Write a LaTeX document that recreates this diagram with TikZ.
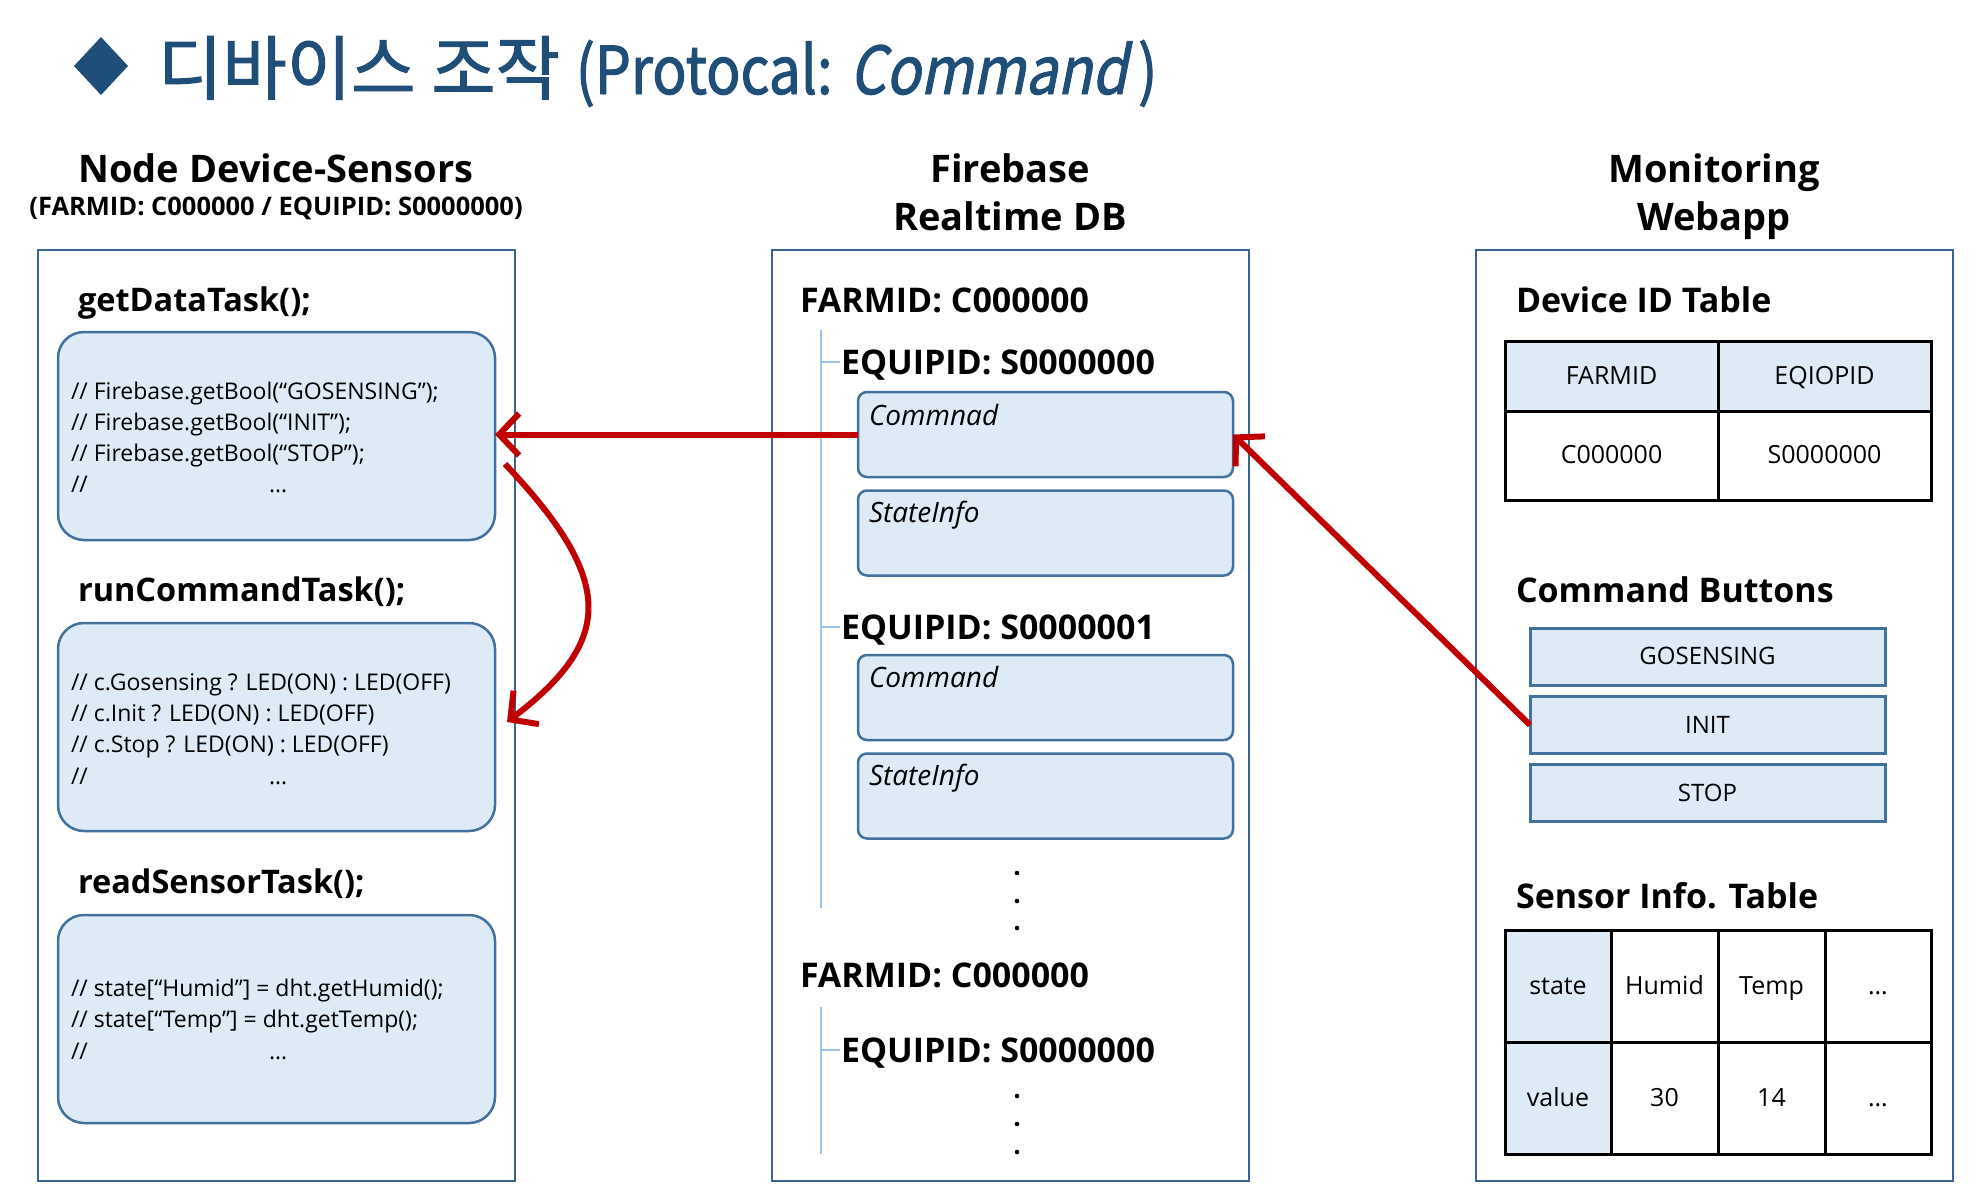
\documentclass[tikz,border=0pt]{standalone}
\usepackage{fontspec}
\setmainfont{Open Sans}
\newfontfamily\krfont[FakeBold=1.5]{Noto Sans CJK KR}
\newfontfamily\krlatin[FakeStretch=0.86, FakeBold=1.5, AutoFakeSlant=0.2]{Noto Sans CJK KR}
\usetikzlibrary{arrows.meta,calc}
\definecolor{titleblue}{HTML}{1F4E79}
\definecolor{outerblue}{HTML}{3A6592}
\definecolor{innerblue}{HTML}{41719C}
\definecolor{lightfill}{HTML}{DEEBF7}
\definecolor{treeblue}{HTML}{9DC3E6}
\definecolor{arrowred}{HTML}{C00000}
\begin{document}
\begin{tikzpicture}[x=1pt,y=-1pt,
  every node/.style={inner sep=0pt, outer sep=0pt},
  outerbox/.style={draw=outerblue, line width=2.5pt, minimum width=477pt, minimum height=931pt},
  codebox/.style={draw=innerblue, fill=lightfill, rounded corners=26pt, line width=2.5pt, minimum width=437pt, minimum height=208pt},
  fbbox/.style={draw=innerblue, fill=lightfill, rounded corners=9pt, line width=2.5pt, minimum width=375pt, minimum height=85pt},
  btnbox/.style={draw=innerblue, fill=lightfill, line width=3pt, minimum width=355pt, minimum height=57pt, text height=17pt, text depth=1pt, font=\fontsize{24}{28}\selectfont},
  cell/.style={draw=black, line width=3pt, text height=18pt, text depth=2pt, font=\fontsize{25}{30}\selectfont},
  colhead/.style={font=\bfseries\fontsize{38}{46}\selectfont, anchor=base},
  sechead/.style={font=\bfseries\fontsize{32.5}{37}\selectfont, anchor=base west},
  idhead/.style={font=\bfseries\fontsize{34}{39}\selectfont, anchor=base west},
  codetxt/.style={font=\fontsize{23}{27}\selectfont, anchor=base west},
  fblabel/.style={font=\itshape\fontsize{28}{32}\selectfont, anchor=base west},
  treeline/.style={draw=treeblue, line width=1.5pt},
  redarrow/.style={draw=arrowred, line width=6pt, -{Straight Barb[length=20pt,width=42pt]}}
]
\useasboundingbox[fill=white] (0,0) rectangle (1978,1202);

% Title
\fill[titleblue] (101,37) -- (128,66) -- (101,95) -- (74,66) -- cycle;
\node[anchor=base west, text=titleblue, font=\krfont\fontsize{70}{76}\selectfont] (title) at (158,94)
  {디바이스 조작 {\krlatin\fontsize{66}{72}\selectfont(Protocal: \textit{Command}\,)}};

% Column headings
\node[colhead] (h1) at (276,182) {Node Device-Sensors};
\node[anchor=base, font=\bfseries\fontsize{25.5}{30}\selectfont] (h1b) at (276,215) {(FARMID: C000000 / EQUIPID: S0000000)};
\node[colhead] (h2a) at (1010,182) {Firebase};
\node[colhead] (h2b) at (1010,230) {Realtime DB};
\node[colhead] (h3a) at (1714,182) {Monitoring};
\node[colhead] (h3b) at (1714,230) {Webapp};

% Outer boxes
\node[outerbox] (lbox) at (276.5,715.5) {};
\node[outerbox] (mbox) at (1010.5,715.5) {};
\node[outerbox] (rbox) at (1714.5,715.5) {};

% Left column
\node[sechead] (t1) at (78,311) {getDataTask();};
\node[codebox] (get) at (276.5,436) {};
\node[codetxt] (g1) at (71,399) {// Firebase.getBool(“GOSENSING”);};
\node[codetxt] (g2) at (71,430) {// Firebase.getBool(“INIT”);};
\node[codetxt] (g3) at (71,461) {// Firebase.getBool(“STOP”);};
\node[codetxt] (g4) at (71,492) {\makebox[198pt][l]{//}…};

\node[sechead] (t2) at (78,601) {runCommandTask();};
\node[codebox] (run) at (276.5,727) {};
\node[codetxt] (r1) at (71,690) {// c.Gosensing ? LED(ON) : LED(OFF)};
\node[codetxt] (r2) at (71,721) {// c.Init ? LED(ON) : LED(OFF)};
\node[codetxt] (r3) at (71,752) {// c.Stop ? LED(ON) : LED(OFF)};
\node[codetxt] (r4) at (71,784) {\makebox[198pt][l]{//}…};

\node[sechead] (t3) at (78,893) {readSensorTask();};
\node[codebox] (read) at (276.5,1019) {};
\node[codetxt] (s1) at (71,996) {// state[“Humid”] = dht.getHumid();};
\node[codetxt] (s2) at (71,1027) {// state[“Temp”] = dht.getTemp();};
\node[codetxt] (s3) at (71,1059) {\makebox[198pt][l]{//}…};

% Middle column
\node[idhead] (f1) at (800,312) {FARMID: C000000};
\draw[treeline] (821,330) -- (821,908);
\draw[treeline] (821,362) -- (840,362);
\node[idhead] (e1) at (841,374) {EQUIPID: S0000000};
\node[fbbox] (cmd1) at (1045.5,434.5) {};
\node[fblabel] (cmd1l) at (869,425) {Commnad};
\node[fbbox] (st1) at (1045.5,533) {};
\node[fblabel] (st1l) at (869,522) {StateInfo};
\draw[treeline] (821,627) -- (840,627);
\node[idhead] (e2) at (841,639) {EQUIPID: S0000001};
\node[fbbox] (cmd2) at (1045.5,697.5) {};
\node[fblabel] (cmd2l) at (869,687) {Command};
\node[fbbox] (st2) at (1045.5,796) {};
\node[fblabel] (st2l) at (869,785) {StateInfo};
\foreach \yy in {873,901,928} \fill (1017,\yy) circle (2.3pt);
\node[idhead] (f2) at (800,987) {FARMID: C000000};
\draw[treeline] (821,1007) -- (821,1154);
\draw[treeline] (821,1050) -- (840,1050);
\node[idhead] (e3) at (841,1062) {EQUIPID: S0000000};
\foreach \yy in {1096,1124,1152} \fill (1017,\yy) circle (2.3pt);

% Right column
\node[idhead] (dt) at (1516,312) {Device ID Table};
\node[cell, fill=lightfill, minimum width=213pt, minimum height=70pt] (c11) at (1611.5,376) {FARMID};
\node[cell, fill=lightfill, minimum width=213pt, minimum height=70pt] (c12) at (1824.5,376) {EQIOPID};
\node[cell, minimum width=213pt, minimum height=89pt] (c21) at (1611.5,455.5) {C000000};
\node[cell, minimum width=213pt, minimum height=89pt] (c22) at (1824.5,455.5) {S0000000};

\node[idhead] (cb) at (1516,602) {Command Buttons};
\node[btnbox] (gos) at (1707.5,656.5) {GOSENSING};
\node[btnbox] (init) at (1707.5,725) {INIT};
\node[btnbox] (stop) at (1707.5,793) {STOP};

\node[idhead] (si) at (1516,908) {Sensor Info. Table};
\node[cell, fill=lightfill, minimum width=106pt, minimum height=112pt] (d11) at (1558,986) {state};
\node[cell, minimum width=107pt, minimum height=112pt] (d12) at (1664.5,986) {Humid};
\node[cell, minimum width=107pt, minimum height=112pt] (d13) at (1771.5,986) {Temp};
\node[cell, minimum width=106pt, minimum height=112pt] (d14) at (1878,986) {…};
\node[cell, fill=lightfill, minimum width=106pt, minimum height=112pt] (d21) at (1558,1098) {value};
\node[cell, minimum width=107pt, minimum height=112pt] (d22) at (1664.5,1098) {30};
\node[cell, minimum width=107pt, minimum height=112pt] (d23) at (1771.5,1098) {14};
\node[cell, minimum width=106pt, minimum height=112pt] (d24) at (1878,1098) {…};

% Arrows
\draw[redarrow] (cmd1.west) -- (cmd1.west -| get.east);
\draw[redarrow] (init.west) -- (cmd1.east);
\draw[redarrow] ($(get.east)+(10,28)$) .. controls ($(get.east)+(120,144)$) and ($(get.east)+(120,204)$) .. ($(run.east)+(12,-5)$);
\end{tikzpicture}
\end{document}
